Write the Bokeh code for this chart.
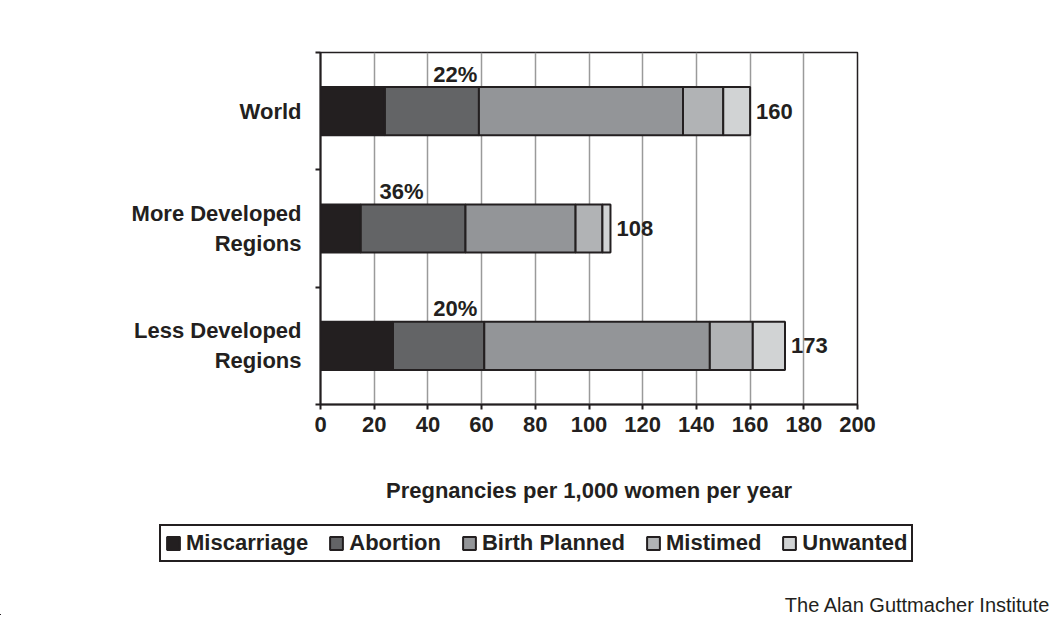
from bokeh.plotting import figure
from bokeh.layouts import column
from bokeh.models import ColumnDataSource, FixedTicker, Legend, LegendItem, Label
from bokeh.core.properties import value
from bokeh.embed import file_html
from bokeh.resources import INLINE

# ---- data ----
regions = ["World", "More Developed Regions", "Less Developed Regions"]
region_labels = ["World", "More Developed\nRegions", "Less Developed\nRegions"]
outcomes = ["Miscarriage", "Abortion", "Birth Planned", "Mistimed", "Unwanted"]
miscarriage = [24, 15, 27]
abortion = [35, 39, 34]
birth_planned = [76, 41, 84]
mistimed = [15, 10, 16]
unwanted = [10, 3, 12]
totals = [160, 108, 173]
x_ticks = [0, 20, 40, 60, 80, 100, 120, 140, 160, 180, 200]
share_label_x = [42, 22, 42]   # left edge of the abortion-share labels (data units)
source_note = "The Alan Guttmacher Institute"
x_title = "Pregnancies per 1,000 women per year"

colors = ["#231f20", "#636466", "#939598", "#b1b3b5", "#d1d3d4"]
FONT = "Liberation Sans"
INK = "#231f20"
W = 1055
H_MAIN = 515
H_LEG = 100

# numeric positions: World on top
ypos = [len(regions) - i - 0.5 for i in range(len(regions))]
keys = ["miscarriage", "abortion", "birth_planned", "mistimed", "unwanted"]
src = ColumnDataSource(dict(
    y=ypos, miscarriage=miscarriage, abortion=abortion,
    birth_planned=birth_planned, mistimed=mistimed, unwanted=unwanted,
))

p = figure(width=W, height=H_MAIN, x_range=(0, 200), y_range=(0, len(regions)),
           output_backend="svg", toolbar_location=None,
           min_border_left=320, min_border_top=52, min_border_right=198,
           min_border_bottom=H_MAIN - 404)
p.frame_align = False
p.background_fill_color = "white"
p.border_fill_color = "white"
p.outline_line_color = INK
p.outline_line_width = 1.5

BAR_H = 0.41
renderers = p.hbar_stack(keys, y="y", height=BAR_H, color=colors, source=src,
                         line_color=INK, line_width=2)

# grid
p.ygrid.grid_line_color = None
p.xgrid.ticker = FixedTicker(ticks=x_ticks)
p.xgrid.grid_line_color = "#9a9a9a"
p.xgrid.grid_line_width = 1.5

# x axis
xa = p.xaxis[0]
xa.ticker = FixedTicker(ticks=x_ticks)
xa.axis_line_color = INK
xa.axis_line_width = 2
xa.major_tick_line_color = INK
xa.major_tick_line_width = 2
xa.major_tick_out = 5
xa.major_tick_in = 0
xa.minor_tick_line_color = None
xa.major_label_standoff = 7
xa.major_label_text_font = FONT
xa.major_label_text_font_style = "bold"
xa.major_label_text_font_size = "22px"
xa.major_label_text_color = INK
xa.axis_label = x_title
xa.axis_label_text_font = FONT
xa.axis_label_text_font_style = "bold"
xa.axis_label_text_font_size = "22px"
xa.axis_label_text_color = INK
xa.axis_label_standoff = 43

# y axis: labels at centers, ticks at boundaries
ya = p.yaxis[0]
ya.ticker = FixedTicker(ticks=ypos, minor_ticks=list(range(len(regions) + 1)))
ya.major_label_overrides = {y: lab for y, lab in zip(ypos, region_labels)}
ya.axis_line_color = INK
ya.axis_line_width = 2
ya.major_tick_line_color = None
ya.minor_tick_line_color = INK
ya.minor_tick_line_width = 2
ya.minor_tick_out = 5
ya.minor_tick_in = 0
ya.major_label_standoff = 13
ya.major_label_text_font = FONT
ya.major_label_text_font_style = "bold"
ya.major_label_text_font_size = "22px"
ya.major_label_text_color = INK

# totals at bar ends
tsrc = ColumnDataSource(dict(x=totals, y=ypos, t=[str(v) for v in totals]))
p.text(x="x", y="y", text="t", source=tsrc, x_offset=6, text_baseline="middle",
       text_align="left", text_font=value(FONT), text_font_style="bold",
       text_font_size="22px", text_color=INK)

# abortion share labels just above each bar
shares = [f"{round(100 * a / t)}%" for a, t in zip(abortion, totals)]
ssrc = ColumnDataSource(dict(x=share_label_x, y=[y + BAR_H / 2 for y in ypos], t=shares))
p.text(x="x", y="y", text="t", source=ssrc, y_offset=-13, text_baseline="middle",
       text_align="left", text_font=value(FONT), text_font_style="bold",
       text_font_size="22px", text_color=INK)

# ---- legend strip (separate, unaligned plot so the legend can sit left of the frame) ----
q = figure(width=W, height=H_LEG, x_range=(1000, 1001), y_range=(100, 101),
           output_backend="svg", toolbar_location=None,
           min_border_left=0, min_border_right=0, min_border_top=0, min_border_bottom=0)
q.frame_align = False
q.axis.visible = False
q.grid.visible = False
q.outline_line_color = None
q.background_fill_color = "white"
q.border_fill_color = "white"

# same stacked data, outside this strip's visible ranges: only used for legend swatches
swatches = q.hbar_stack(keys, y="y", height=BAR_H, color=colors, source=src,
                        line_color=INK, line_width=2)
legend = Legend(items=[LegendItem(label=o, renderers=[r]) for o, r in zip(outcomes, swatches)],
                orientation="horizontal", location=(159, (H_MAIN + H_LEG) - 562))
legend.label_text_font = FONT
legend.label_text_font_style = "bold"
legend.label_text_font_size = "22px"
legend.label_text_color = INK
legend.glyph_width = 16
legend.glyph_height = 16
legend.label_standoff = 5
legend.spacing = 20
legend.padding = 4
legend.margin = 0
legend.border_line_color = INK
legend.border_line_alpha = 1
legend.border_line_width = 2
legend.background_fill_alpha = 1
q.add_layout(legend, "center")

q.add_layout(Label(x=1050, y=(H_MAIN + H_LEG) - 604, x_units="screen", y_units="screen",
                   text=source_note, text_align="right", text_baseline="middle",
                   text_font=FONT, text_font_size="20px", text_color=INK))

layout = column(p, q, spacing=0)
open("out.html", "w").write(file_html(layout, INLINE))
